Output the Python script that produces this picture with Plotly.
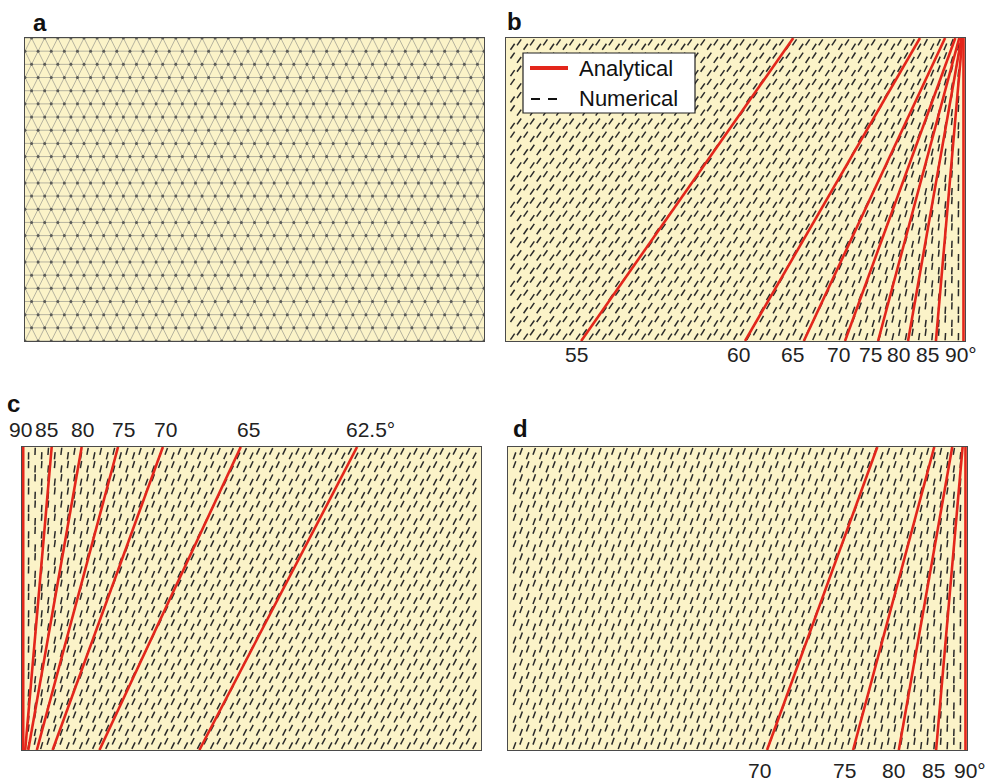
import numpy as np
import plotly.graph_objects as go

# ---------------- data ----------------
# panel b: analytical lines, angle (deg) and bottom position (panel units, height = 1)
b_angles = [55, 60, 65, 70, 75, 80, 85, 90]
b_bottom_x = [0.248, 0.789, 0.983, 1.119, 1.228, 1.327, 1.419, 1.510]
b_labels = ["55", "60", "65", "70", "75", "80", "85", "90°"]

# panel c: analytical lines, angle (deg) and top position
c_angles = [90, 85, 80, 75, 70, 65, 62.5]
c_top_x = [0.004, 0.098, 0.197, 0.317, 0.465, 0.722, 1.106]
c_labels = ["90", "85", "80", "75", "70", "65", "62.5°"]

# panel d: analytical lines, angle (deg) and bottom position
d_angles = [70, 75, 80, 85, 90]
d_bottom_x = [0.855, 1.139, 1.290, 1.413, 1.510]
d_labels = ["70", "75", "80", "85", "90°"]

# mesh (panel a) resolution
mesh_cols = 35
mesh_rows = 23

# ---------------- styling / geometry ----------------
W, H = 1.515, 1.0          # panel size in panel units
PXU = 303.0                # pixels per panel unit
FIG_W, FIG_H = 995, 781
BG = "#FBF3C8"
RED = "#E3261B"
DASH_COL = "#2a2a2a"
FONT = "Liberation Sans, Arial, Helvetica, sans-serif"

b_lab_dx = [-5, -7, -11, -7, -8, -10, -8, -3]
c_lab_dx = [-3, -5, 1, 5, 3, 8, 13]
d_lab_dx = [-8, -9, -5, -3, 4]


def px(x):
    return x / FIG_W


def py(y):
    return 1 - y / FIG_H


panels = {
    "a": dict(x=(25, 484), y=(38, 341)),
    "b": dict(x=(506, 965), y=(38, 341)),
    "c": dict(x=(22, 481), y=(447, 750)),
    "d": dict(x=(508, 967), y=(447, 750)),
}

fig = go.Figure()

# ---------------- mesh geometry ----------------
dx = W / mesh_cols
dy = H / mesh_rows
slope = dx / (2 * dy)

mx, my = [], []
for j in range(mesh_rows + 1):
    mx += [0, W, None]
    my += [j * dy, j * dy, None]
for k in range(-mesh_rows, mesh_cols + mesh_rows + 2):
    mx += [k * dx, k * dx + slope * H, None]
    my += [0, H, None]
    mx += [k * dx, k * dx - slope * H, None]
    my += [0, H, None]

vx, vy = [], []
cx, cy = [], []
for j in range(mesh_rows + 1):
    s = (j % 2) * dx / 2
    for i in range(-1, mesh_cols + 2):
        x = s + i * dx
        if -1e-9 <= x <= W + 1e-9:
            vx.append(x)
            vy.append(j * dy)
    if j < mesh_rows:
        for i in range(-1, mesh_cols + 2):
            xu = s + (i + 0.5) * dx
            if 0.01 < xu < W - 0.01:
                cx.append(xu)
                cy.append(j * dy + dy / 3)
            xd = s + i * dx
            if 0.01 < xd < W - 0.01:
                cx.append(xd)
                cy.append(j * dy + 2 * dy / 3)
cx = np.array(cx)
cy = np.array(cy)

# panel a mesh
fig.add_trace(go.Scatter(x=mx, y=my, mode="lines", xaxis="x", yaxis="y",
                         line=dict(color="#a3a294", width=0.8),
                         hoverinfo="skip", showlegend=False))
fig.add_trace(go.Scatter(x=vx, y=vy, mode="markers", xaxis="x", yaxis="y",
                         marker=dict(color="#5a5a55", size=3),
                         hoverinfo="skip", showlegend=False))


def cot(a):
    return np.cos(np.radians(a)) / np.sin(np.radians(a))


def line_x_b(i, y):
    return b_bottom_x[i] + y * cot(b_angles[i])


def line_x_c(i, y):
    return c_top_x[i] - (H - y) * cot(c_angles[i])


def line_x_d(i, y):
    return d_bottom_x[i] + y * cot(d_angles[i])


def dash_field(line_fn, angles, n):
    L = 0.024
    xs, ys = [], []
    for x0, y0 in zip(cx, cy):
        lx = [line_fn(i, y0) for i in range(n)]
        order = np.argsort(lx)
        a = np.interp(x0, np.array(lx)[order], np.array(angles, float)[order])
        ddx = 0.5 * L * np.cos(np.radians(a))
        ddy = 0.5 * L * np.sin(np.radians(a))
        xs += [x0 - ddx, x0 + ddx, None]
        ys += [y0 - ddy, y0 + ddy, None]
    return xs, ys


def red_lines(line_fn, n):
    xs, ys = [], []
    for i in range(n):
        xs += [line_fn(i, 0), line_fn(i, H), None]
        ys += [0, H, None]
    return xs, ys


for key, fn, angs, ax in [("b", line_x_b, b_angles, "2"),
                          ("c", line_x_c, c_angles, "3"),
                          ("d", line_x_d, d_angles, "4")]:
    dxs, dys = dash_field(fn, angs, len(angs))
    fig.add_trace(go.Scatter(x=dxs, y=dys, mode="lines", xaxis="x" + ax, yaxis="y" + ax,
                             line=dict(color=DASH_COL, width=1.5),
                             hoverinfo="skip", showlegend=False))
    rxs, rys = red_lines(fn, len(angs))
    fig.add_trace(go.Scatter(x=rxs, y=rys, mode="lines", xaxis="x" + ax, yaxis="y" + ax,
                             line=dict(color=RED, width=2.6),
                             hoverinfo="skip", showlegend=False))

# ---------------- axes ----------------
axis_common = dict(showgrid=False, zeroline=False, showticklabels=False, ticks="",
                   showline=True, mirror=True, linecolor="#4a4a4a", linewidth=1.3,
                   fixedrange=True)
layout_axes = {}
for n, key in enumerate(["a", "b", "c", "d"], start=1):
    p = panels[key]
    sfx = "" if n == 1 else str(n)
    layout_axes["xaxis" + sfx] = dict(axis_common, domain=[px(p["x"][0]), px(p["x"][1])],
                                      range=[0, W], anchor="y" + sfx)
    layout_axes["yaxis" + sfx] = dict(axis_common, domain=[py(p["y"][1]), py(p["y"][0])],
                                      range=[0, H], anchor="x" + sfx)

annotations = []
# panel letters
for letter, (x, y) in {"a": (40, 23), "b": (514, 21), "c": (13, 403), "d": (520, 428)}.items():
    annotations.append(dict(text="<b>%s</b>" % letter, x=px(x), y=py(y), xref="paper", yref="paper",
                            showarrow=False, xanchor="center", yanchor="middle",
                            font=dict(size=24, color="#111", family=FONT)))

# angle labels: placed at the line ends (panel units -> page pixels)
lab_font = dict(size=21, color="#222", family=FONT)


def add_labels(labels, pos, nudges, panel_key, y_px):
    left = panels[panel_key]["x"][0]
    for lab, xv, nd in zip(labels, pos, nudges):
        annotations.append(dict(text=lab, x=px(left + xv * PXU + nd), y=py(y_px),
                                xref="paper", yref="paper", showarrow=False,
                                xanchor="center", yanchor="middle", font=lab_font))


add_labels(b_labels, b_bottom_x, b_lab_dx, "b", 354)
add_labels(c_labels, c_top_x, c_lab_dx, "c", 430)
add_labels(d_labels, d_bottom_x, d_lab_dx, "d", 770)

# legend (panel b)
shapes = [
    dict(type="rect", xref="paper", yref="paper", x0=px(523), x1=px(695), y0=py(113), y1=py(53),
         fillcolor="white", line=dict(color="#222", width=1.2), layer="above"),
    dict(type="line", xref="paper", yref="paper", x0=px(530), x1=px(568), y0=py(68), y1=py(68),
         line=dict(color=RED, width=4), layer="above"),
    dict(type="line", xref="paper", yref="paper", x0=px(531), x1=px(540), y0=py(99), y1=py(99),
         line=dict(color="#111", width=2), layer="above"),
    dict(type="line", xref="paper", yref="paper", x0=px(548), x1=px(557), y0=py(99), y1=py(99),
         line=dict(color="#111", width=2), layer="above"),
]
annotations.append(dict(text="Analytical", x=px(577), y=py(69), xref="paper", yref="paper",
                        showarrow=False, xanchor="left", yanchor="middle",
                        font=dict(size=22, color="#111", family=FONT)))
annotations.append(dict(text="Numerical", x=px(577), y=py(98), xref="paper", yref="paper",
                        showarrow=False, xanchor="left", yanchor="middle",
                        font=dict(size=22, color="#111", family=FONT)))

fig.update_layout(width=FIG_W, height=FIG_H, margin=dict(l=0, r=0, t=0, b=0),
                  paper_bgcolor="white", plot_bgcolor=BG, showlegend=False,
                  annotations=annotations, shapes=shapes, font=dict(family=FONT),
                  **layout_axes)

fig.write_html("out.html", config={"displayModeBar": False, "staticPlot": True},
               post_script="document.body.style.margin='0';document.body.style.overflow='hidden';")
